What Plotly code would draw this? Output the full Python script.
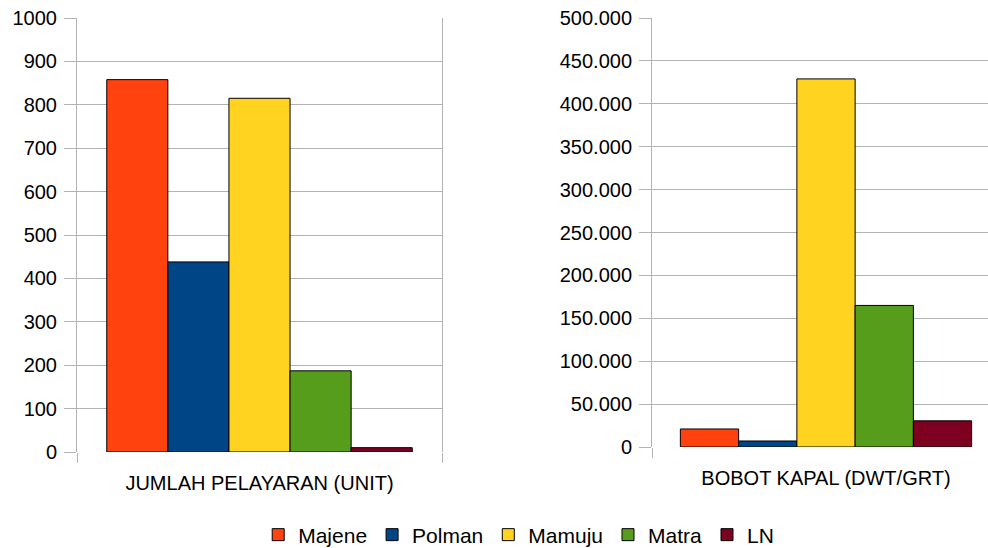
import plotly.graph_objects as go

cities = ["Majene", "Polman", "Mamuju", "Matra", "LN"]
colors = ["#ff420e", "#004586", "#ffd320", "#579d1c", "#7e0021"]
cat_left = ["JUMLAH PELAYARAN (UNIT)"]
cat_right = ["BOBOT KAPAL (DWT/GRT)"]
pelayaran = [858, 438, 815, 187, 10]
bobot = [21000, 7000, 429000, 165000, 30500]
ticks_left = [0, 100, 200, 300, 400, 500, 600, 700, 800, 900, 1000]
ticks_right = [0, 50000, 100000, 150000, 200000, 250000, 300000, 350000, 400000, 450000, 500000]

W, H = 988, 548
FONT = "Liberation Sans, Arial, sans-serif"
GRID = "#b3b3b3"

fig = go.Figure()
for i, c in enumerate(cities):
    fig.add_trace(go.Bar(x=cat_left, y=[pelayaran[i]], name=c, marker_color=colors[i],
                         marker_line_color="#000000", marker_line_width=1,
                         legendgroup=c, showlegend=True, xaxis="x", yaxis="y"))
for i, c in enumerate(cities):
    fig.add_trace(go.Bar(x=cat_right, y=[bobot[i]], name=c, marker_color=colors[i],
                         marker_line_color="#000000", marker_line_width=1,
                         legendgroup=c, showlegend=False, xaxis="x2", yaxis="y2"))

common_x = dict(type="category", tickson="boundaries", ticks="outside", ticklen=10,
                tickcolor=GRID, showgrid=False, showline=False, zeroline=False,
                ticklabelstandoff=17, automargin=False,
                tickfont=dict(family=FONT, size=20, color="#000000"))
common_y = dict(ticks="outside", ticklen=12, tickcolor=GRID, showgrid=True,
                gridcolor=GRID, gridwidth=1, zeroline=False, automargin=False,
                showline=True, linecolor=GRID, linewidth=1,
                tickfont=dict(family=FONT, size=20, color="#000000"), ticklabelstandoff=3)

fig.update_layout(
    width=W, height=H,
    margin=dict(l=0, r=0, t=0, b=0, autoexpand=False),
    paper_bgcolor="white", plot_bgcolor="white",
    barmode="group", bargap=0.163, bargroupgap=0,
    separators=",.",
    font=dict(family=FONT, size=20, color="#000000"),
    xaxis=dict(domain=[77 / W, 442 / W], range=[-0.5, 0.5], anchor="y", **common_x),
    yaxis=dict(domain=[1 - 452 / H, 1 - 18 / H], range=[0, 1000], tickvals=ticks_left,
               tickformat="d", anchor="x", mirror=True, **common_y),
    xaxis2=dict(domain=[652 / W, 1.0], range=[-0.5, -0.5 + 336 / 348], anchor="y2", **common_x),
    yaxis2=dict(domain=[1 - 447 / H, 1 - 18 / H], range=[0, 500000], tickvals=ticks_right,
                tickformat=",d", anchor="x2", **common_y),
    legend=dict(orientation="h", x=0.525, xanchor="center", y=1 - 535 / H, yanchor="middle",
                font=dict(family=FONT, size=21, color="#000000"),
                itemwidth=30, tracegroupgap=0),
)

fig.write_html("out.html", config={"displayModeBar": False},
               post_script="document.body.style.margin='0';document.body.style.overflow='hidden';")
